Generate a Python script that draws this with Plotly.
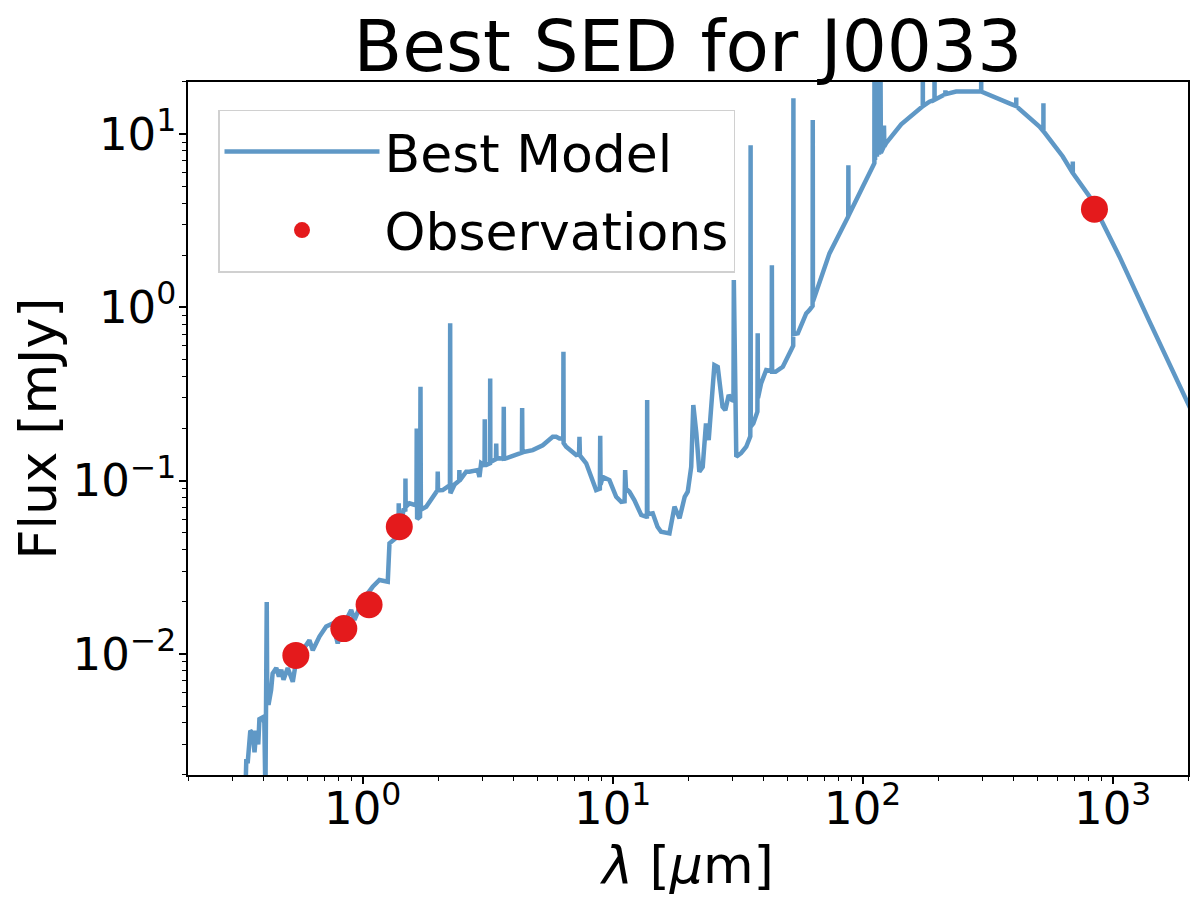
import plotly.graph_objects as go

# best-fit model (wavelength in micron, flux in mJy)
# optical / near-IR part
opt_wave = [0.339, 0.342, 0.347, 0.355, 0.363, 0.369, 0.375, 0.382, 0.386, 0.398,
            0.404, 0.408, 0.413, 0.415, 0.421, 0.430, 0.436, 0.451, 0.462, 0.472,
            0.482, 0.501, 0.525, 0.542, 0.575, 0.612, 0.631, 0.671, 0.714, 0.759,
            0.794, 0.845, 0.899, 0.927, 1.000, 1.096, 1.166, 1.259, 1.279, 1.361,
            1.390, 1.393, 1.397, 1.425, 1.455, 1.480, 1.482, 1.485, 1.538, 1.610,
            1.640, 1.644, 1.650, 1.695, 1.702, 1.708, 1.794, 1.905, 1.977, 1.990,
            1.995, 2.000, 2.089, 2.188, 2.232, 2.237, 2.242, 2.330, 2.430, 2.435,
            2.440, 2.592, 2.670, 2.884, 2.930, 2.975]
opt_flux = [0.0015, 0.0024, 0.0024, 0.0036, 0.0035, 0.0027, 0.0036, 0.0030, 0.0042, 0.0043,
            0.0040, 0.0015, 0.0199, 0.0052, 0.0052, 0.0062, 0.0077, 0.0083, 0.0074, 0.0081,
            0.0071, 0.0083, 0.0069, 0.0092, 0.0105, 0.0120, 0.0105, 0.0126, 0.0144, 0.0150,
            0.0115, 0.0150, 0.0179, 0.0157, 0.0205, 0.0244, 0.0267, 0.0261, 0.0435, 0.0475,
            0.048, 0.074, 0.050, 0.0567, 0.0676, 0.068, 0.103, 0.0707, 0.074, 0.0722,
            0.072, 0.200, 0.060, 0.062, 0.348, 0.068, 0.0707, 0.0807, 0.0883, 0.088,
            0.113, 0.088, 0.0883, 0.0923, 0.092, 0.809, 0.0845, 0.095, 0.100, 0.115,
            0.100, 0.1126, 0.1126, 0.115, 0.105, 0.126]

# mid-IR part (PAH bumps, silicate dip, lines)
mir_wave = [3.05, 3.070, 3.076, 3.082, 3.116, 3.228, 3.234, 3.240, 3.41, 3.419,
            3.428, 3.523, 3.655, 3.665, 3.675, 3.747, 4.234, 4.33, 4.341, 4.352,
            4.786, 5.248, 5.754, 5.94, 6.12, 6.34, 6.35, 6.36, 6.51, 7.14,
            7.33, 7.36, 7.39, 7.83, 8.32, 8.58, 8.88, 8.91, 8.94, 9.12,
            9.70, 10.32, 10.81, 11.15, 11.21, 11.3, 11.66, 12.2, 13.0, 13.6,
            13.70, 13.73, 13.76, 14.45, 15.1, 15.6, 16.86, 17.66, 18.5, 19.4,
            19.95, 20.6, 21.0, 21.6, 22.2, 22.9, 23.6, 24.2, 25.5, 26.3,
            27.5, 28.2, 29.1, 30.0, 30.4, 30.5, 31.0, 31.2, 32.6, 34.2,
            35.5, 35.6, 35.65, 36.5, 37.9, 38.0, 38.1, 39.2, 41.1, 43.2,
            43.3, 43.4, 44.8, 47.9, 51.7, 52.7, 52.8, 52.9, 55.0, 59.4,
            61.2, 63.0, 63.1, 63.2]
mir_flux = [0.122, 0.122, 0.226, 0.123, 0.123, 0.126, 0.389, 0.128, 0.133, 0.164,
            0.134, 0.1345, 0.134, 0.267, 0.134, 0.1345, 0.144, 0.145, 0.263, 0.146,
            0.150, 0.160, 0.179, 0.179, 0.175, 0.175, 0.554, 0.165, 0.157, 0.1406,
            0.142, 0.179, 0.140, 0.126, 0.0965, 0.0883, 0.090, 0.1816, 0.095, 0.105,
            0.1008, 0.0807, 0.0755, 0.076, 0.115, 0.090, 0.0863, 0.0773, 0.0633, 0.0619,
            0.062, 0.292, 0.064, 0.0648, 0.0542, 0.0507, 0.0496, 0.0707, 0.0606, 0.0807,
            0.0863, 0.120, 0.273, 0.1875, 0.1126, 0.120, 0.214, 0.1716, 0.465, 0.454,
            0.267, 0.255, 0.312, 0.292, 0.29, 1.44, 0.14, 0.1374, 0.144, 0.157,
            0.18, 8.64, 0.205, 0.214, 0.25, 0.708, 0.30, 0.364, 0.435, 0.43,
            1.75, 0.425, 0.425, 0.454, 0.567, 0.60, 16.1, 0.70, 0.708, 0.923,
            0.965, 1.02, 12.05, 1.08]

# far-IR / submm part (dust bump)
fir_wave = [73.6, 87.1, 87.5, 87.6, 87.7, 100.0, 111.3, 111.4, 112.0, 113.4,
            114.0, 115.6, 116.2, 117.7, 118.2, 121.0, 121.6, 122.0, 124.0, 142.5,
            173.8, 173.9, 174.0, 184.9, 193.6, 193.7, 193.8, 214.0, 214.1, 214.2,
            236.4, 297.6, 297.7, 297.8, 392.4, 411.0, 411.1, 411.2, 509.0, 528.0,
            528.1, 528.2, 631.0, 692.0, 692.1, 692.2, 807.0, 1063.0, 1402.0, 1954.0,
            2100.0]
fir_flux = [2.05, 3.33, 3.35, 6.62, 3.38, 4.97, 6.8, 30.0, 7.1, 30.0,
            7.4, 30.0, 7.6, 30.0, 7.8, 8.4, 11.2, 8.5, 8.87, 11.4,
            14.5, 30.0, 14.5, 15.4, 15.8, 30.0, 15.8, 17.0, 17.9, 17.0,
            17.6, 17.6, 22.0, 17.6, 14.9, 14.5, 16.3, 14.5, 11.07, 10.4,
            15.1, 10.4, 7.43, 5.96, 6.96, 5.96, 4.37, 1.97, 0.830, 0.293,
            0.24]

model_wave = opt_wave + mir_wave + fir_wave
model_flux = opt_flux + mir_flux + fir_flux

# photometry
obs_wave = [0.54, 0.84, 1.06, 1.40, 845.0]
obs_flux = [0.0098, 0.0140, 0.0192, 0.0542, 3.69]

x_ticks = [1, 10, 100, 1000]
x_ticktext = ["10<sup>0</sup>", "10<sup>1</sup>", "10<sup>2</sup>", "10<sup>3</sup>"]
y_ticks = [0.01, 0.1, 1, 10]
y_ticktext = ["10<sup>\u22122</sup>", "10<sup>\u22121</sup>", "10<sup>0</sup>", "10<sup>1</sup>"]

minor_x = [m * 10 ** e for e in range(-1, 4) for m in range(2, 10)]
minor_y = [m * 10 ** e for e in range(-3, 2) for m in range(2, 10)]

fig = go.Figure()
fig.add_trace(go.Scatter(x=model_wave, y=model_flux, mode="lines", name="Best Model",
                         legendgroup="model",
                         line=dict(color="#5f98c6", width=4.5)))
fig.add_trace(go.Scatter(x=obs_wave, y=obs_flux, mode="markers", name="Observations",
                         legendgroup="obs",
                         marker=dict(color="#e41a1c", size=27)))

axis_common = dict(type="log", showline=True, linecolor="black", linewidth=1.5, mirror=True,
                   ticks="outside", ticklen=7, tickwidth=1.5, tickcolor="black",
                   showgrid=False, zeroline=False, tickmode="array",
                   tickfont=dict(size=45, color="black"))

fig.update_xaxes(**axis_common, range=[-0.699, 3.301], tickvals=x_ticks, ticktext=x_ticktext,
                 ticklabelstandoff=-14,
                 minor=dict(tickmode="array", tickvals=minor_x, ticks="outside", ticklen=4,
                            tickwidth=1.2, tickcolor="black", showgrid=False),
                 title=dict(text="<i>λ</i> [<i>μ</i>m]", font=dict(size=52, color="black"), standoff=4))
fig.update_yaxes(**axis_common, range=[-2.699, 1.301], tickvals=y_ticks, ticktext=y_ticktext,
                 ticklabelstandoff=-6,
                 minor=dict(tickmode="array", tickvals=minor_y, ticks="outside", ticklen=4,
                            tickwidth=1.2, tickcolor="black", showgrid=False),
                 title=dict(text="Flux [mJy]", font=dict(size=52, color="black"), standoff=14))

# the page body adds an 8 px offset, so the margins are 8 px smaller on top/left
fig.update_layout(
    width=1200, height=905,
    font=dict(family="DejaVu Sans", color="black"),
    paper_bgcolor="white", plot_bgcolor="white",
    margin=dict(l=180, r=20, t=74, b=138),
    title=dict(text="Best SED for J0033", font=dict(size=71, color="black"),
               x=0.5, xref="paper", xanchor="center", y=0.958, yref="container", yanchor="middle"),
    legend=dict(x=0.03, y=0.96, xanchor="left", yanchor="top",
                bgcolor="rgba(255,255,255,0.8)", bordercolor="#d0d0d0", borderwidth=1.5,
                font=dict(size=52, color="black"), itemwidth=155, tracegroupgap=8),
    showlegend=True,
)

fig.write_html("out.html")
